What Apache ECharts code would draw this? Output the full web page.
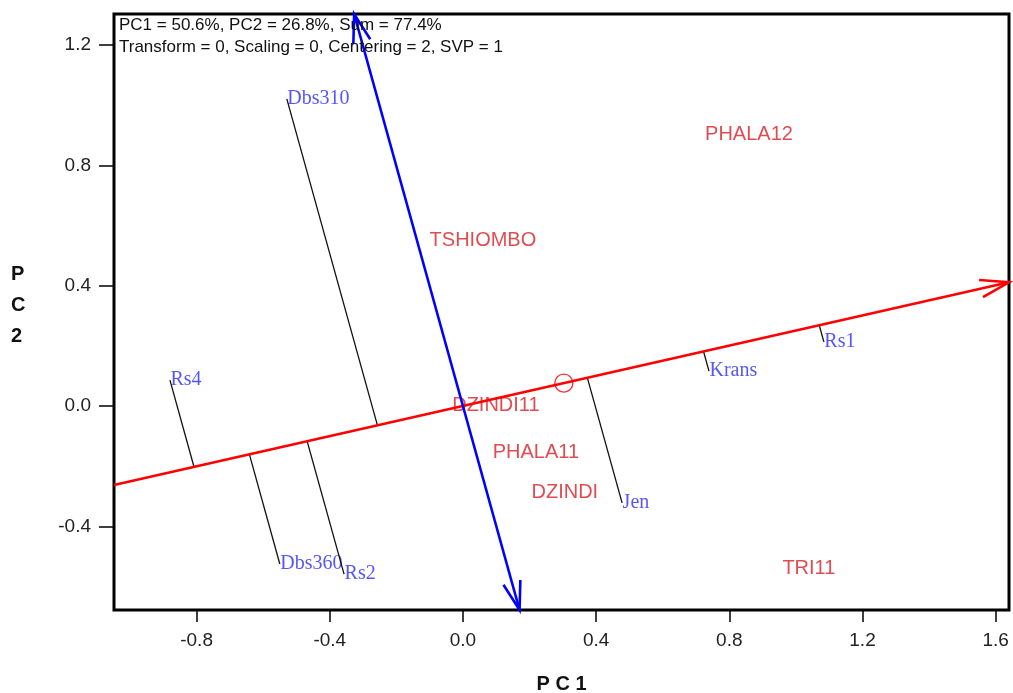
<!DOCTYPE html>
<html>
<head>
<meta charset="utf-8">
<script src="https://cdn.jsdelivr.net/npm/echarts@6/dist/echarts.min.js"></script>
<style>
  html, body { margin: 0; padding: 0; background: #fff; }
  #chart { width: 1013px; height: 693px; }
</style>
</head>
<body>
<div id="chart"></div>
<script>
// Genotype scores (red labels)
const genotypes = ['PHALA12', 'TSHIOMBO', 'DZINDI11', 'PHALA11', 'DZINDI', 'TRI11'];
const genotypePC1 = [0.859, 0.060, 0.099, 0.219, 0.306, 1.039];
const genotypePC2 = [0.904, 0.549, 0.003, -0.153, -0.286, -0.539];

// Environment scores (blue labels)
const environments = ['Dbs310', 'Rs4', 'Dbs360', 'Rs2', 'Jen', 'Krans', 'Rs1'];
const envPC1 = [-0.529, -0.880, -0.550, -0.357, 0.478, 0.739, 1.084];
const envPC2 = [1.021, 0.086, -0.525, -0.559, -0.322, 0.116, 0.213];

// Average environment coordinate (small circle on the AEC abscissa)
const aecPoint = [0.303, 0.076];

// Axes
const xRange = [-1.048, 1.640];
const yRange = [-0.678, 1.303];
const xTicks = [-0.8, -0.4, 0.0, 0.4, 0.8, 1.2, 1.6];
const yTicks = [-0.4, 0.0, 0.4, 0.8, 1.2];
const xTitle = 'P C 1';
const yTitle = 'P\nC\n2';
const headerLines = [
  'PC1 = 50.6%, PC2 = 26.8%, Sum = 77.4%',
  'Transform = 0, Scaling = 0, Centering = 2, SVP = 1'
];

// AEC abscissa runs through the origin and the average environment
const slope = aecPoint[1] / aecPoint[0];
const abscissa = [[xRange[0], slope * xRange[0]], [xRange[1], slope * xRange[1]]];
// AEC ordinate is perpendicular to it through the origin
const ordinate = [[-slope * yRange[1], yRange[1]], [-slope * yRange[0], yRange[0]]];

// foot of the perpendicular from an environment onto the abscissa
function projectOnAxis(x, y) {
  const t = (x + y * slope) / (1 + slope * slope);
  return [t, t * slope];
}

function arrowHead(tip, from, len, angleDeg) {
  const dx = from[0] - tip[0], dy = from[1] - tip[1];
  const d = Math.hypot(dx, dy);
  const ux = dx / d, uy = dy / d;
  const a = angleDeg * Math.PI / 180;
  const rot = (s) => [
    tip[0] + len * (ux * Math.cos(s) - uy * Math.sin(s)),
    tip[1] + len * (ux * Math.sin(s) + uy * Math.cos(s))
  ];
  return [rot(a), tip, rot(-a)];
}

function axisLine(seg, color, headStart, headEnd) {
  return function (params, api) {
    const p0 = api.coord(seg[0]);
    const p1 = api.coord(seg[1]);
    const style = { stroke: color, lineWidth: 2.6, fill: null };
    const children = [{ type: 'polyline', shape: { points: [p0, p1] }, style }];
    if (headEnd) children.push({ type: 'polyline', shape: { points: arrowHead(p1, p0, 30, 17) }, style });
    if (headStart) children.push({ type: 'polyline', shape: { points: arrowHead(p0, p1, 30, 17) }, style });
    return { type: 'group', children };
  };
}

const chart = echarts.init(document.getElementById('chart'), null, { renderer: 'canvas' });

const labelFont = 'Liberation Sans, Arial, sans-serif';
const serifFont = 'Liberation Serif, Times New Roman, serif';

chart.setOption({
  animation: false,
  backgroundColor: '#fff',
  title: {
    text: headerLines.join('\n'),
    left: 119,
    top: 14,
    padding: 0,
    textStyle: { fontFamily: labelFont, fontSize: 17, fontWeight: 'normal', color: '#111', lineHeight: 22 }
  },
  graphic: [
    {
      // vertical axis title, stacked letters
      type: 'text',
      left: 11,
      top: 259,
      style: {
        text: yTitle,
        font: 'bold 20px ' + labelFont,
        fill: '#111',
        lineHeight: 31,
        align: 'center'
      }
    }
  ],
  grid: {
    left: 114, right: 4, top: 14, bottom: 83,
    outerBoundsMode: 'none',
    containLabel: false,
    show: true, borderColor: '#000', borderWidth: 3, backgroundColor: 'transparent'
  },
  xAxis: {
    type: 'value',
    min: xRange[0], max: xRange[1],
    name: xTitle,
    nameLocation: 'middle',
    nameGap: 64,
    nameTextStyle: { fontFamily: labelFont, fontSize: 20, fontWeight: 'bold', color: '#111' },
    axisLine: { show: false, onZero: false },
    splitLine: { show: false },
    axisTick: { show: true, customValues: xTicks, length: 12, lineStyle: { color: '#000', width: 1.5 } },
    axisLabel: {
      customValues: xTicks, margin: 21,
      formatter: (v) => v.toFixed(1),
      fontFamily: labelFont, fontSize: 19, color: '#222'
    }
  },
  yAxis: {
    type: 'value',
    min: yRange[0], max: yRange[1],
    axisLine: { show: false, onZero: false },
    splitLine: { show: false },
    axisTick: { show: true, customValues: yTicks, length: 15, lineStyle: { color: '#000', width: 1.5 } },
    axisLabel: {
      customValues: yTicks, margin: 23,
      formatter: (v) => v.toFixed(1),
      fontFamily: labelFont, fontSize: 19, color: '#222'
    }
  },
  series: [
    {
      // genotype names
      type: 'scatter',
      symbolSize: 1,
      itemStyle: { color: 'transparent' },
      z: 2,
      data: genotypes.map((g, i) => ({ name: g, value: [genotypePC1[i], genotypePC2[i]] })),
      label: {
        show: true, position: 'inside', formatter: (p) => p.name,
        fontFamily: labelFont, fontSize: 20, color: '#d81e26'
      }
    },
    {
      // environment names
      type: 'scatter',
      symbolSize: 1,
      itemStyle: { color: 'transparent' },
      z: 2,
      data: environments.map((e, i) => ({ name: e, value: [envPC1[i], envPC2[i]] })),
      label: {
        show: true, position: 'right', distance: 0, formatter: (p) => p.name,
        fontFamily: serifFont, fontSize: 20, color: '#2a2af8'
      }
    },
    {
      // projections of environments onto the AEC abscissa
      type: 'custom',
      z: 3,
      data: environments.map((e, i) => [envPC1[i], envPC2[i]]),
      renderItem: (params, api) => {
        const x = api.value(0), y = api.value(1);
        const p0 = api.coord([x, y]);
        const p1 = api.coord(projectOnAxis(x, y));
        return { type: 'line', shape: { x1: p0[0], y1: p0[1], x2: p1[0], y2: p1[1] }, style: { stroke: '#111', lineWidth: 1.3 } };
      }
    },
    {
      // AEC abscissa
      type: 'custom', z: 4, data: [[0, 0]], silent: true,
      renderItem: axisLine(abscissa, '#ff0000', false, true)
    },
    {
      // AEC ordinate
      type: 'custom', z: 5, data: [[0, 0]], silent: true,
      renderItem: axisLine(ordinate, '#0000ff', true, true)
    },
    {
      // average environment marker
      type: 'scatter', z: 6,
      symbol: 'circle', symbolSize: 18,
      itemStyle: { color: 'transparent', borderColor: '#ff0000', borderWidth: 1.4 },
      data: [aecPoint]
    }
  ]
});
</script>
</body>
</html>
